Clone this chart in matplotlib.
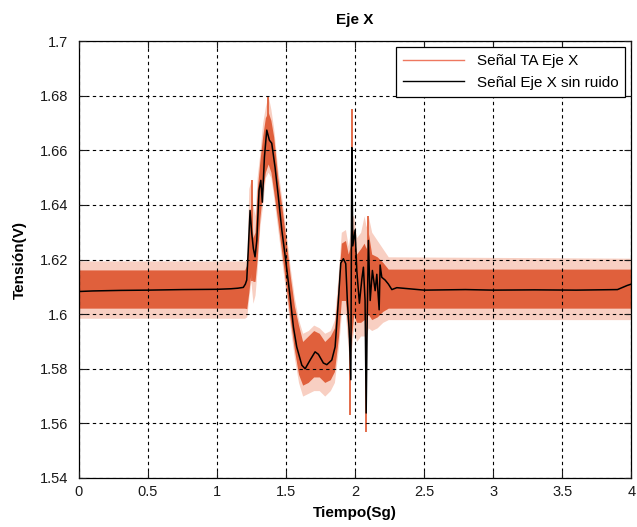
import numpy as np
import matplotlib
matplotlib.use('Agg')
import matplotlib.pyplot as plt
from matplotlib.lines import Line2D

plt.rcParams['font.family'] = ['Liberation Sans', 'DejaVu Sans']

# señal sin ruido (filtrada)
t_limpia = [0, 0.1, 0.3, 0.5, 0.75, 1.0, 1.1, 1.15, 1.19, 1.205, 1.215, 1.225,
            1.239, 1.251, 1.263, 1.275, 1.288, 1.304, 1.317, 1.328, 1.343, 1.36,
            1.379, 1.396, 1.42, 1.444, 1.469, 1.497, 1.529, 1.553, 1.577, 1.614,
            1.638, 1.674, 1.71, 1.734, 1.77, 1.795, 1.831, 1.855, 1.879, 1.896,
            1.915, 1.932, 1.944, 1.957, 1.969, 1.976, 1.983, 2.0, 2.012, 2.031,
            2.049, 2.06, 2.072, 2.08, 2.088, 2.096, 2.109, 2.125, 2.145, 2.157,
            2.174, 2.181, 2.193, 2.217, 2.241, 2.266, 2.302, 2.5, 2.8, 3.0, 3.3,
            3.6, 3.9, 3.97, 4.0]
v_limpia = [1.6083, 1.6085, 1.6087, 1.6088, 1.6090, 1.6091, 1.6093, 1.6095,
            1.6098, 1.611, 1.6125, 1.6224, 1.638, 1.6297, 1.624, 1.621, 1.627,
            1.6454, 1.649, 1.641, 1.6575, 1.6674, 1.6637, 1.6626, 1.6538, 1.6429,
            1.6308, 1.6198, 1.6063, 1.5953, 1.588, 1.5813, 1.580, 1.5832, 1.5862,
            1.5853, 1.5821, 1.5815, 1.5832, 1.588, 1.6052, 1.6187, 1.6203, 1.6185,
            1.6045, 1.5942, 1.576, 1.661, 1.625, 1.6308, 1.616, 1.604, 1.613,
            1.6172, 1.605, 1.5638, 1.600, 1.627, 1.605, 1.616, 1.6086, 1.6146,
            1.6016, 1.618, 1.6135, 1.6125, 1.611, 1.609, 1.6097, 1.6088, 1.609,
            1.6088, 1.6089, 1.6088, 1.609, 1.6105, 1.611]

# envolvente de la señal TA (banda densa y picos sueltos)
t_env = [0, 1.2, 1.215, 1.23, 1.245, 1.26, 1.275, 1.29, 1.31, 1.33, 1.35, 1.37,
         1.39, 1.41, 1.44, 1.47, 1.50, 1.53, 1.56, 1.59, 1.62, 1.66, 1.70, 1.74,
         1.78, 1.82, 1.85, 1.88, 1.90, 1.93, 1.95, 1.965, 1.975, 1.99, 2.01,
         2.04, 2.065, 2.08, 2.095, 2.12, 2.16, 2.20, 2.24, 4.0]
ta_bajo = [1.6022, 1.6022, 1.602, 1.608, 1.615, 1.612, 1.612, 1.620, 1.635,
           1.645, 1.652, 1.655, 1.652, 1.645, 1.634, 1.622, 1.610, 1.598, 1.587,
           1.578, 1.574, 1.575, 1.577, 1.577, 1.575, 1.576, 1.579, 1.592, 1.605,
           1.605, 1.592, 1.585, 1.592, 1.600, 1.597, 1.597, 1.598, 1.598, 1.600,
           1.598, 1.599, 1.601, 1.6022, 1.6022]
ta_alto = [1.6162, 1.6162, 1.618, 1.632, 1.640, 1.628, 1.630, 1.645, 1.656,
           1.665, 1.672, 1.674, 1.671, 1.665, 1.650, 1.639, 1.627, 1.614, 1.603,
           1.596, 1.590, 1.592, 1.594, 1.593, 1.590, 1.592, 1.595, 1.612, 1.626,
           1.627, 1.622, 1.625, 1.632, 1.630, 1.622, 1.624, 1.626, 1.624, 1.630,
           1.622, 1.621, 1.619, 1.6165, 1.6165]
ta_min = [1.5985, 1.5985, 1.599, 1.606, 1.612, 1.604, 1.607, 1.616, 1.632, 1.640,
          1.650, 1.652, 1.650, 1.643, 1.631, 1.619, 1.607, 1.595, 1.584, 1.575,
          1.570, 1.571, 1.572, 1.572, 1.570, 1.572, 1.575, 1.588, 1.600, 1.600,
          1.587, 1.582, 1.588, 1.595, 1.590, 1.592, 1.592, 1.592, 1.595, 1.594,
          1.595, 1.597, 1.598, 1.598]
ta_max = [1.6195, 1.6195, 1.620, 1.646, 1.649, 1.640, 1.636, 1.650, 1.659, 1.670,
          1.676, 1.680, 1.675, 1.668, 1.653, 1.642, 1.630, 1.617, 1.606, 1.598,
          1.593, 1.594, 1.596, 1.595, 1.593, 1.594, 1.598, 1.616, 1.630, 1.631,
          1.625, 1.630, 1.636, 1.636, 1.628, 1.630, 1.636, 1.632, 1.636, 1.630,
          1.627, 1.624, 1.621, 1.6205]
pico_t = [1.962, 1.977, 2.08, 2.096, 1.253, 1.372]
pico_bajo = [1.563, 1.620, 1.557, 1.610, 1.612, 1.660]
pico_alto = [1.600, 1.675, 1.600, 1.636, 1.649, 1.680]

rojo = '#e0603c'

fig = plt.figure(figsize=(6.37, 5.27), dpi=100)
ax = fig.add_axes([0.124, 0.093, 0.867, 0.829])

ax.fill_between(t_env, ta_min, ta_max, color='#f8cfc2', lw=0, zorder=1)
ax.fill_between(t_env, ta_bajo, ta_alto, color=rojo, lw=0, zorder=1.5)
ax.vlines(pico_t, pico_bajo, pico_alto, color=rojo, lw=1.3, zorder=1.6)
ax.plot(t_limpia, v_limpia, color='black', lw=1.1, zorder=3)

ax.set_xlim(0, 4)
ax.set_ylim(1.54, 1.7)
ax.set_xticks(np.arange(0, 4.01, 0.5))
ax.set_xticklabels(['0', '0.5', '1', '1.5', '2', '2.5', '3', '3.5', '4'])
ax.set_yticks(np.arange(1.54, 1.7001, 0.02))
ax.set_yticklabels(['1.54', '1.56', '1.58', '1.6', '1.62', '1.64', '1.66',
                    '1.68', '1.7'])
ax.tick_params(direction='in', top=True, right=True, length=5, width=0.8,
               labelsize=10.5, colors='#1a1a1a')
ax.tick_params(axis='y', pad=8)
ax.tick_params(axis='x', pad=5)
ax.set_axisbelow(False)
ax.grid(True, color='black', linestyle=(0, (3, 3)), linewidth=0.8)
for s in ax.spines.values():
    s.set_linewidth(0.9)

ax.set_title('Eje X', fontsize=11, fontweight='bold', pad=12)
ax.set_xlabel('Tiempo(Sg)', fontsize=11, fontweight='bold', labelpad=5)
ax.set_ylabel('Tensión(V)', fontsize=11, fontweight='bold', labelpad=9)

handles = [Line2D([], [], color='#ee7860', lw=1.0),
           Line2D([], [], color='black', lw=1.0)]
leg = ax.legend(handles, ['Señal TA Eje X', 'Señal Eje X sin ruido'],
                loc='upper right', fontsize=11, handlelength=4,
                fancybox=False, framealpha=1, borderaxespad=0.4,
                borderpad=0.45, labelspacing=0.5)
leg.get_frame().set_edgecolor('black')
leg.get_frame().set_linewidth(0.9)

fig.savefig('out.png', dpi=100)
